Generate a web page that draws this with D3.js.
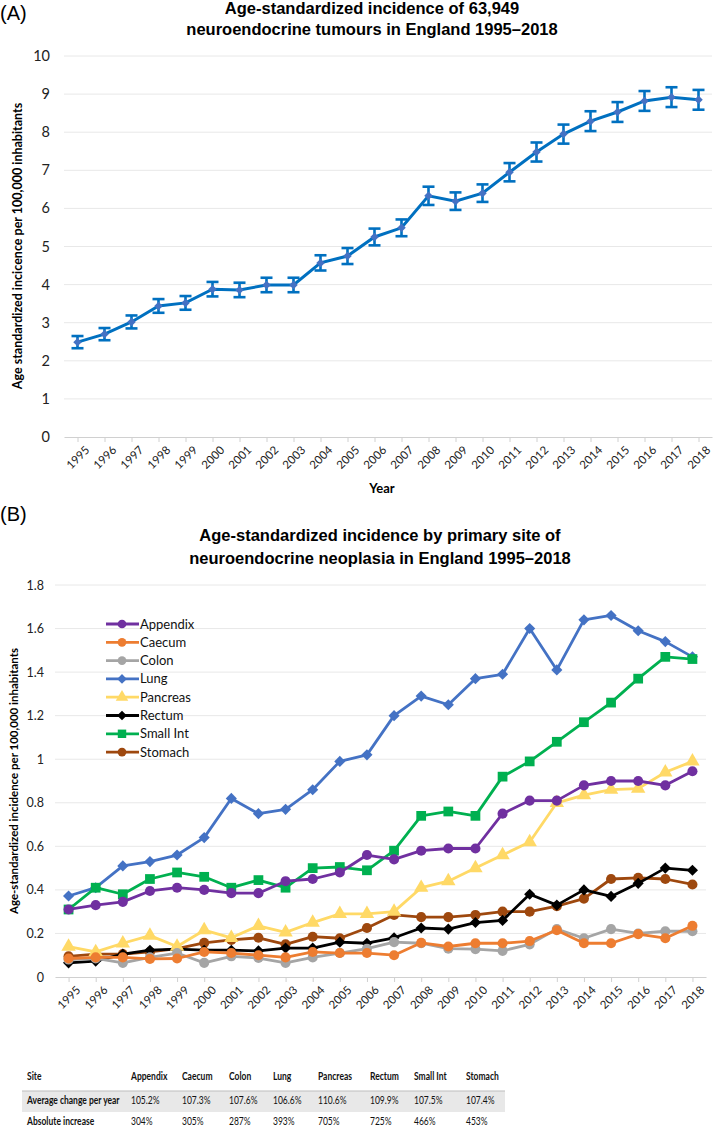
<!DOCTYPE html>
<html><head><meta charset="utf-8">
<script src="https://cdn.jsdelivr.net/npm/d3@7"></script>
<style>body{margin:0;background:#fff}svg{display:block}</style>
</head><body>
<svg id="c" width="714" height="1134"></svg>
<script>
const years = ["1995","1996","1997","1998","1999","2000","2001","2002","2003","2004","2005","2006","2007","2008","2009","2010","2011","2012","2013","2014","2015","2016","2017","2018"];
const totalIncidence = [2.49,2.70,3.02,3.44,3.52,3.88,3.86,3.99,3.99,4.57,4.75,5.25,5.49,6.33,6.19,6.40,6.95,7.48,7.95,8.29,8.53,8.82,8.92,8.85];
const totalCI = [0.16,0.16,0.17,0.18,0.18,0.19,0.19,0.19,0.19,0.20,0.21,0.22,0.22,0.24,0.23,0.23,0.24,0.25,0.25,0.26,0.26,0.26,0.26,0.26];
const ticksA = [0,1,2,3,4,5,6,7,8,9,10];
const ticksB = [0,0.2,0.4,0.6,0.8,1,1.2,1.4,1.6,1.8];

const appendix = [0.31,0.33,0.345,0.395,0.41,0.40,0.385,0.385,0.44,0.45,0.48,0.56,0.54,0.58,0.59,0.59,0.75,0.81,0.81,0.88,0.90,0.90,0.88,0.945];
const caecum   = [0.085,0.09,0.09,0.083,0.085,0.115,0.11,0.10,0.09,0.115,0.11,0.11,0.10,0.157,0.14,0.155,0.155,0.165,0.215,0.155,0.155,0.197,0.178,0.235];
const colon    = [0.08,0.085,0.065,0.09,0.11,0.065,0.095,0.087,0.065,0.09,0.11,0.13,0.16,0.155,0.13,0.128,0.12,0.15,0.22,0.178,0.22,0.20,0.21,0.21];
const lung     = [0.372,0.41,0.51,0.53,0.56,0.64,0.82,0.75,0.77,0.86,0.99,1.02,1.20,1.29,1.25,1.37,1.39,1.60,1.41,1.64,1.66,1.59,1.54,1.47];
const pancreas = [0.14,0.115,0.155,0.19,0.14,0.215,0.18,0.235,0.205,0.25,0.29,0.29,0.30,0.41,0.44,0.50,0.56,0.62,0.80,0.835,0.86,0.865,0.94,0.99];
const rectum   = [0.065,0.073,0.105,0.123,0.128,0.123,0.123,0.12,0.133,0.133,0.16,0.155,0.18,0.225,0.22,0.25,0.26,0.38,0.33,0.40,0.37,0.43,0.50,0.49];
const smallInt = [0.31,0.41,0.38,0.45,0.48,0.46,0.41,0.445,0.41,0.50,0.505,0.49,0.58,0.74,0.76,0.74,0.92,0.99,1.08,1.17,1.26,1.37,1.47,1.46];
const stomach  = [0.095,0.105,0.105,0.115,0.13,0.157,0.17,0.18,0.15,0.185,0.178,0.225,0.285,0.275,0.275,0.285,0.30,0.30,0.325,0.36,0.45,0.455,0.45,0.425];

const siteNames  = ["Appendix","Caecum","Colon","Lung","Pancreas","Rectum","Small Int","Stomach"];
const siteColors = ["#7030A0","#ED7D31","#A5A5A5","#4472C4","#FFD966","#000000","#00B050","#9E480E"];
const siteShapes = ["circle","circle","circle","diamond","triangle","diamond","square","circle"];
const siteValues = [appendix,caecum,colon,lung,pancreas,rectum,smallInt,stomach];
const drawOrder  = [7,5,4,2,1,3,6,0];

const tableHeader = ["Site","Appendix","Caecum","Colon","Lung","Pancreas","Rectum","Small Int","Stomach"];
const avgChange = ["Average change per year","105.2%","107.3%","107.6%","106.6%","110.6%","109.9%","107.5%","107.4%"];
const absIncrease = ["Absolute increase","304%","305%","287%","393%","705%","725%","466%","453%"];

const svg = d3.select("#c");
const FONT = "Lato, 'Open Sans', sans-serif";
const TFONT = "'Liberation Sans', Arial, sans-serif";

// ---------- Panel A ----------
const xA = d3.scalePoint().domain(years).range([64,712]).padding(0.5);
const yA = d3.scaleLinear().domain([0,10]).range([437,56]);
const gA = svg.append("g");
gA.append("text").attr("x",0).attr("y",20).attr("font-family",TFONT).attr("font-size",20).text("(A)");
const tA = gA.append("text").attr("text-anchor","middle").attr("font-family",TFONT).attr("font-weight","bold").attr("font-size",16.5);
tA.append("tspan").attr("x",372).attr("y",14).text("Age-standardized incidence of 63,949");
tA.append("tspan").attr("x",372).attr("y",35).text("neuroendocrine tumours in England 1995\u20132018");

gA.append("g").selectAll("line").data(ticksA.filter(d=>d>0)).join("line")
  .attr("x1",64).attr("x2",712).attr("y1",d=>yA(d)).attr("y2",d=>yA(d))
  .attr("stroke","#e8e8e8").attr("stroke-width",1);
gA.append("g").selectAll("text").data(ticksA).join("text")
  .attr("x",50).attr("y",d=>yA(d)+5).attr("text-anchor","end")
  .attr("font-family",FONT).attr("font-size",14.5).attr("fill","#222").text(d=>d);
const axA = gA.append("g").attr("transform","translate(0,437)")
  .call(d3.axisBottom(xA).tickSize(5).tickSizeOuter(0));
axA.select(".domain").attr("stroke","#d0d0d0").attr("stroke-width",1.2);
axA.selectAll(".tick line").attr("stroke","#d0d0d0");
axA.selectAll(".tick text").attr("font-family",FONT).attr("font-size",11.5).attr("fill","#222")
  .attr("text-anchor","end").attr("dx","-0.1em").attr("dy","0.9em").attr("transform","rotate(-45)");
gA.append("text").attr("x",382).attr("y",493).attr("text-anchor","middle")
  .attr("font-family",FONT).attr("font-weight","bold").attr("font-size",13).text("Year");
gA.append("text").attr("transform",`translate(22,246) rotate(-90)`).attr("text-anchor","middle")
  .attr("font-family",FONT).attr("font-weight","bold").attr("font-size",12.5).text("Age standardized incicence per 100,000 inhabitants");

const lineA = d3.line().x((d,i)=>xA(years[i])).y(d=>yA(d));
gA.append("path").datum(totalIncidence).attr("d",lineA).attr("fill","none").attr("stroke","#0070C0").attr("stroke-width",3);
const eb = gA.append("g").attr("stroke","#0070C0").attr("stroke-width",2.6);
years.forEach((yr,i)=>{
  const x = xA(yr), lo = yA(totalIncidence[i]-totalCI[i]), hi = yA(totalIncidence[i]+totalCI[i]);
  eb.append("line").attr("x1",x).attr("x2",x).attr("y1",lo).attr("y2",hi);
  eb.append("line").attr("x1",x-6).attr("x2",x+6).attr("y1",lo).attr("y2",lo);
  eb.append("line").attr("x1",x-6).attr("x2",x+6).attr("y1",hi).attr("y2",hi);
});
gA.append("g").selectAll("path").data(totalIncidence).join("path")
  .attr("d",d3.symbol(d3.symbolSquare,36)())
  .attr("transform",(d,i)=>`translate(${xA(years[i])},${yA(d)}) rotate(45) scale(1,1)`)
  .attr("fill","#4472C4");

// ---------- Panel B ----------
const xB = d3.scalePoint().domain(years).range([55,706]).padding(0.5);
const yB = d3.scaleLinear().domain([0,1.8]).range([977,585]);
const gB = svg.append("g");
gB.append("text").attr("x",0).attr("y",521).attr("font-family",TFONT).attr("font-size",20).text("(B)");
const tB = gB.append("text").attr("text-anchor","middle").attr("font-family",TFONT).attr("font-weight","bold").attr("font-size",16.5);
tB.append("tspan").attr("x",380).attr("y",541).text("Age-standardized incidence by primary site of");
tB.append("tspan").attr("x",380).attr("y",564).text("neuroendocrine neoplasia in England 1995\u20132018");

gB.append("g").selectAll("line").data(ticksB.filter(d=>d>0)).join("line")
  .attr("x1",55).attr("x2",706).attr("y1",d=>yB(d)).attr("y2",d=>yB(d))
  .attr("stroke","#e8e8e8").attr("stroke-width",1);
gB.append("g").selectAll("text").data(ticksB).join("text")
  .attr("x",44).attr("y",d=>yB(d)+4.5).attr("text-anchor","end")
  .attr("font-family",FONT).attr("font-size",12.5).attr("fill","#222").text(d=>d);
const axB = gB.append("g").attr("transform","translate(0,977)")
  .call(d3.axisBottom(xB).tickSize(5).tickSizeOuter(0));
axB.select(".domain").attr("stroke","#d0d0d0").attr("stroke-width",1.2);
axB.selectAll(".tick line").attr("stroke","#d0d0d0");
axB.selectAll(".tick text").attr("font-family",FONT).attr("font-size",11.5).attr("fill","#222")
  .attr("text-anchor","end").attr("dx","-0.1em").attr("dy","0.9em").attr("transform","rotate(-45)");
gB.append("text").attr("transform",`translate(18,${(585+977)/2}) rotate(-90)`).attr("text-anchor","middle")
  .attr("font-family",FONT).attr("font-weight","bold").attr("font-size",11.5).text("Age-standardized incidence per 100,000 inhabitants");

function sym(shape, big){
  const s = big ? 1 : 0.75;
  if(shape==="circle") return d3.symbol(d3.symbolCircle,80*s)();
  if(shape==="square") return d3.symbol(d3.symbolSquare,95*s)();
  if(shape==="triangle") return d3.symbol(d3.symbolTriangle,90*s)();
  return d3.symbol(d3.symbolSquare,62*s)();
}
const rot = shape => shape==="diamond" ? " rotate(45)" : "";
const lineB = d3.line().x((d,i)=>xB(years[i])).y(d=>yB(d));
drawOrder.forEach(k=>{
  const g = gB.append("g");
  g.append("path").datum(siteValues[k]).attr("d",lineB).attr("fill","none")
    .attr("stroke",siteColors[k]).attr("stroke-width",2.8).attr("stroke-linejoin","round");
  g.selectAll("path.m").data(siteValues[k]).join("path").attr("class","m")
    .attr("d",sym(siteShapes[k],true))
    .attr("transform",(d,i)=>`translate(${xB(years[i])},${yB(d)})`+rot(siteShapes[k]))
    .attr("fill",siteColors[k]);
});

// legend
const lg = gB.append("g");
siteNames.forEach((n,i)=>{
  const y = 624 + i*18.3;
  lg.append("line").attr("x1",106).attr("x2",139).attr("y1",y).attr("y2",y).attr("stroke",siteColors[i]).attr("stroke-width",2.8);
  lg.append("path").attr("d",sym(siteShapes[i],false)).attr("transform",`translate(122,${y})`+rot(siteShapes[i])).attr("fill",siteColors[i]);
  lg.append("text").attr("x",140).attr("y",y+4.5).attr("font-family",FONT).attr("font-size",13).attr("fill","#111").text(n);
});

// ---------- Table ----------
const colX = [27,131,182,229,273,318,370,414,466];
const tg = svg.append("g");
tg.append("rect").attr("x",22).attr("y",1091).attr("width",483).attr("height",21).attr("fill","#e8e8e8");
tg.append("line").attr("x1",22).attr("x2",505).attr("y1",1091).attr("y2",1091).attr("stroke","#bdbdbd").attr("stroke-width",1);
function row(arr, y, bold){
  arr.forEach((t,i)=>{
    tg.append("text").attr("x",colX[i]).attr("y",y).attr("font-family",FONT)
      .attr("font-weight",bold||i===0?"bold":"normal").attr("font-size",11.5).attr("fill","#111").text(t);
  });
}
row(tableHeader,1080,true);
row(avgChange,1104,false);
row(absIncrease,1125,false);
// compress text horizontally to mimic the narrow table font
tg.selectAll("text").each(function(){
  const el = d3.select(this); const x = +el.attr("x");
  el.attr("transform",`translate(${x},0) scale(0.74,1) translate(${-x},0)`);
});
</script>
</body></html>
